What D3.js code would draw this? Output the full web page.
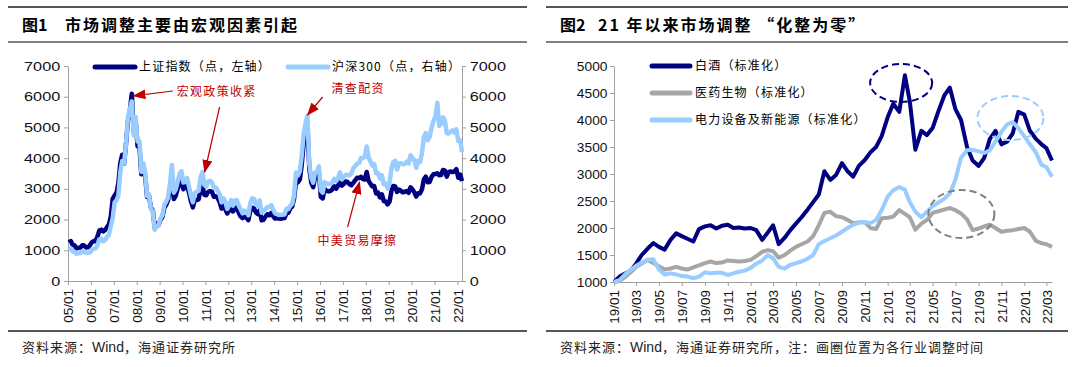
<!DOCTYPE html>
<html>
<head>
<meta charset="utf-8">
<script src="https://cdn.jsdelivr.net/npm/d3@7"></script>
<style>
  body { margin: 0; background: #fff; }
  svg { display: block; font-family: "Liberation Sans", Arial, "Noto Sans CJK SC", sans-serif; }
</style>
</head>
<body>
<svg id="chart" width="1080" height="367"></svg>
<script>
// ---------- figure 1: monthly, 2005/01 .. 2022/03 ----------
const shIndex = [
  1250, 1300, 1180, 1160, 1060, 1080, 1083, 1162, 1155, 1092, 1099, 1161,
  1258, 1299, 1298, 1440, 1641, 1672, 1612, 1658, 1752, 1837, 2099, 2675,
  2786, 2881, 3183, 3841, 4109, 3820, 4471, 5218, 5552, 6100, 4871, 5262,
  4383, 4348, 3473, 3693, 3433, 2736, 2775, 2397, 2293, 1729, 1871, 1821,
  1990, 2082, 2373, 2477, 2633, 2959, 3412, 2667, 2779, 2996, 3195, 3277,
  2989, 3051, 3110, 2870, 2592, 2398, 2638, 2638, 2656, 2979, 3100, 2808,
  2791, 2905, 2928, 2911, 2743, 2762, 2701, 2568, 2359, 2468, 2333, 2199,
  2293, 2428, 2263, 2397, 2373, 2225, 2103, 2047, 2086, 2069, 1980, 2269,
  2385, 2366, 2237, 2178, 2301, 1979, 1994, 2098, 2175, 2141, 2220, 2116,
  2033, 2056, 2033, 2026, 2039, 2048, 2202, 2217, 2364, 2420, 2683, 3235,
  3210, 3310, 3748, 4441, 4612, 5100, 3664, 3206, 3053, 3383, 3445, 3539,
  2738, 2688, 3004, 2938, 2917, 2930, 2979, 3085, 3005, 3100, 3250, 3104,
  3159, 3242, 3223, 3155, 3117, 3192, 3273, 3361, 3349, 3393, 3317, 3307,
  3550, 3259, 3169, 3082, 3095, 2847, 2876, 2725, 2821, 2603, 2588, 2494,
  2585, 2941, 3091, 3078, 2899, 2979, 2933, 2886, 2905, 2929, 2872, 3050,
  2977, 2880, 2750, 2860, 2852, 2985, 3310, 3396, 3218, 3225, 3392, 3473,
  3483, 3509, 3442, 3447, 3615, 3591, 3397, 3544, 3568, 3547, 3564, 3640,
  3362, 3462, 3250
];
const hs300 = [
  1000, 1065,  962,  956,  883,  907,  908,  966,  957,  915,  917,  924,
  1010, 1048, 1062, 1163, 1358, 1380, 1294, 1330, 1434, 1506, 1793, 2042,
  2570, 2627, 2781, 3541, 3903, 3831, 4472, 5338, 5596, 5850, 4738, 5338,
  4539, 4549, 3551, 3836, 3561, 2768, 2819, 2349, 2265, 1665, 1793, 1817,
  2032, 2144, 2468, 2582, 2718, 3166, 3780, 2877, 2984, 3222, 3495, 3576,
  3205, 3282, 3346, 3068, 2771, 2564, 2868, 2903, 2935, 3379, 3550, 3128,
  3076, 3239, 3263, 3211, 3033, 3044, 2941, 2829, 2558, 2695, 2568, 2346,
  2464, 2634, 2455, 2626, 2640, 2461, 2332, 2204, 2293, 2254, 2140, 2523,
  2688, 2673, 2495, 2452, 2627, 2226, 2286, 2338, 2410, 2409, 2472, 2331,
  2202, 2178, 2146, 2158, 2160, 2165, 2354, 2339, 2450, 2508, 2809, 3533,
  3434, 3572, 4051, 4749, 5123, 5380, 3816, 3366, 3202, 3534, 3566, 3731,
  2946, 2877, 3218, 3156, 3169, 3154, 3204, 3327, 3253, 3336, 3538, 3310,
  3387, 3452, 3456, 3439, 3493, 3666, 3737, 3822, 3837, 4006, 4006, 4031,
  4380, 4023, 3899, 3756, 3802, 3510, 3517, 3334, 3438, 3153, 3173, 3011,
  3202, 3670, 3873, 3913, 3630, 3826, 3836, 3799, 3814, 3886, 3829, 4097,
  4003, 3940, 3686, 3913, 3868, 4164, 4695, 4816, 4588, 4695, 5000, 5212,
  5351, 5807, 5048, 5124, 5331, 5224, 4811, 4806, 4867, 4908, 4832, 4940,
  4564, 4582, 4200
];
const leftXLabels = ["05/01","06/01","07/01","08/01","09/01","10/01","11/01","12/01","13/01",
  "14/01","15/01","16/01","17/01","18/01","19/01","20/01","21/01","22/01"];
const leftYTicks = [0, 1000, 2000, 3000, 4000, 5000, 6000, 7000];
const leftNotes = [
  { text: "宏观政策收紧", at: "2009-10-01", v: 6150,
    arrows: [ { from: ["2009-07-30", 6186], to: ["2007-11-10", 6030] },
              { from: ["2011-08-15", 5665], to: ["2010-12-20", 3549] } ] },
  { text: "清查配资", at: "2016-07-04", v: 6251,
    arrows: [ { from: ["2016-02-13", 5991], to: ["2015-06-17", 5405] } ] },
  { text: "中美贸易摩擦", at: "2015-11-24", v: 1302,
    arrows: [ { from: ["2017-03-17", 1758], to: ["2017-09-24", 3223] } ] }
];

// ---------- figure 2: half-monthly, 2019/01 .. 2022/03 ----------
const baijiu = [
  1000, 1100, 1160, 1220, 1340, 1500, 1620, 1720, 1650, 1600, 1780, 1900,
  1850, 1800, 1750, 1980, 2030, 2050, 1990, 2040, 2060, 2000, 2010, 1990,
  2000, 1960, 1780, 1920, 2050, 1700, 1820, 1960, 2080, 2200, 2340, 2480,
  2620, 3050, 2890, 2980, 3200, 3050, 2950, 3150, 3260, 3400, 3500, 3700,
  4050, 4300, 4150, 4830, 4350, 3450, 3800, 3720, 3850, 4150, 4450, 4600,
  4200, 4000, 3500, 3250, 3150, 3300, 3650, 3800, 3550, 3600, 3750, 4150,
  4100, 3800, 3650, 3550, 3480, 3250
];
const yiyao = [
  1000, 1020, 1100, 1190, 1280, 1340, 1410, 1350, 1290, 1230, 1250, 1280,
  1250, 1230, 1270, 1310, 1350, 1380, 1350, 1360, 1400, 1390, 1380, 1390,
  1410, 1480, 1560, 1590, 1570, 1450, 1500, 1580, 1650, 1700, 1750, 1850,
  2050, 2280, 2300, 2220, 2200, 2150, 2090, 2100, 2110, 2000, 1980, 2180,
  2190, 2210, 2330, 2260, 2200, 1970, 2080, 2150, 2280, 2310, 2340, 2370,
  2330, 2270, 2160, 1960, 1990, 2030, 2060, 2000, 1930, 1950, 1960, 1980,
  2000, 1930, 1760, 1720, 1700, 1650
];
const dianli = [
  1000, 1040, 1150, 1230, 1300, 1360, 1410, 1420, 1230, 1140, 1160, 1140,
  1110, 1100, 1070, 1100, 1180, 1160, 1170, 1170, 1130, 1160, 1190, 1210,
  1260, 1340, 1400, 1500, 1440, 1280, 1250, 1320, 1350, 1380, 1430, 1500,
  1700, 1760, 1810, 1860, 1930, 2000, 2060, 2100, 2110, 2090, 2150, 2330,
  2580, 2700, 2760, 2710, 2480, 2300, 2200, 2300, 2400, 2470, 2540, 2640,
  2900, 3300, 3440, 3450, 3420, 3390, 3440, 3600, 3780, 3920, 3960, 3850,
  3700, 3550, 3400, 3170, 3130, 2950
];
const rightXLabels = ["19/01","19/03","19/05","19/07","19/09","19/11","20/01","20/03","20/05","20/07",
  "20/09","20/11","21/01","21/03","21/05","21/07","21/09","21/11","22/01","22/03"];
const rightYTicks = [1000, 1500, 2000, 2500, 3000, 3500, 4000, 4500, 5000];
const circles = [
  { at: "2021-02-06", v: 4685, color: "#000080", rx: 31, ry: 19 },
  { at: "2021-11-25", v: 4037, color: "#99ccff", rx: 33, ry: 22 },
  { at: "2021-07-17", v: 2259, color: "#808080", rx: 33, ry: 24 }
];

const NAVY = "#000080", LIGHT = "#99ccff", GRAY = "#a6a6a6", RED = "#c00000";
const AXIS = "#a0a0a0";
const CJK = "'Noto Sans CJK SC', sans-serif";
const LATIN = "'Liberation Sans', Arial, sans-serif";

const svg = d3.select("#chart");
svg.append("rect").attr("width", 1080).attr("height", 367).attr("fill", "#fff");
const parseDay = d3.timeParse("%Y-%m-%d");
const labelDate = s => new Date(2000 + +s.slice(0, 2), +s.slice(3) - 1, 1);

// frames, titles, sources
function frame(x1, x2, num, title, titleX, sourceTail) {
  [[7, 2], [42, 1.5], [331, 2]].forEach(([y, w]) => {
    svg.append("line").attr("x1", x1).attr("x2", x2).attr("y1", y).attr("y2", y)
      .attr("stroke", "#555").attr("stroke-width", w);
  });
  svg.append("text").attr("x", x1 + 14).attr("y", 31).attr("font-size", 16)
    .attr("font-weight", "bold").style("font-family", CJK).text(num);
  svg.append("text").attr("x", titleX).attr("y", 31).attr("font-size", 16)
    .attr("font-weight", "bold").attr("letter-spacing", 2).style("font-family", CJK).text(title);
  const src = svg.append("text").attr("x", x1 + 14).attr("y", 352).attr("font-size", 13)
    .attr("letter-spacing", 1).attr("fill", "#222").style("font-family", CJK);
  src.append("tspan").text("资料来源：");
  src.append("tspan").style("font-family", LATIN).attr("letter-spacing", 0).attr("font-size", 14).text("Wind");
  src.append("tspan").text(sourceTail);
}
frame(8, 527, "图1", "市场调整主要由宏观因素引起", 65, "，海通证券研究所");
frame(546, 1068, "图2", "21 年以来市场调整 “化整为零”", 598,
  "，海通证券研究所，注：画圈位置为各行业调整时间");

function styleAxis(g) {
  g.select(".domain").attr("stroke", AXIS);
  g.selectAll(".tick line").attr("stroke", AXIS);
  g.selectAll("text").attr("fill", "#111").attr("font-size", 12.5).style("font-family", LATIN);
}
function rotateLabels(g) {
  g.selectAll("text").attr("transform", "rotate(-90)").attr("font-size", 13.5)
    .attr("x", -8).attr("y", 0).attr("dy", "0.35em").attr("text-anchor", "end");
}

// ---------- figure 1 ----------
const xL = d3.scaleTime().domain([new Date(2005, 0, 1), new Date(2022, 2, 15)]).range([68, 462]);
const yL = d3.scaleLinear().domain([0, 7000]).range([281, 66]);
const leftDates = shIndex.map((_, i) => d3.timeDay.offset(d3.timeMonth.offset(new Date(2005, 0, 1), i), 14));

svg.append("g").attr("transform", "translate(68,0)")
  .call(d3.axisLeft(yL).tickValues(leftYTicks).tickFormat(d3.format("d")).tickSize(4).tickSizeOuter(0))
  .call(styleAxis)
  .call(g => g.selectAll("text").attr("x", -6).attr("transform", "scale(1.3,1)"));
svg.append("g").attr("transform", "translate(462,0)")
  .call(d3.axisRight(yL).tickValues(leftYTicks).tickFormat(d3.format("d")).tickSize(4).tickSizeOuter(0))
  .call(styleAxis)
  .call(g => g.selectAll("text").attr("x", 6).attr("transform", "scale(1.3,1)"));
svg.append("g").attr("transform", "translate(0,281)")
  .call(d3.axisBottom(xL).tickValues(leftXLabels.map(labelDate))
    .tickFormat((d, i) => leftXLabels[i]).tickSize(4).tickSizeOuter(0))
  .call(styleAxis)
  .call(rotateLabels);

const lineL = d3.line().x((d, i) => xL(leftDates[i])).y(d => yL(d));
[[shIndex, NAVY], [hs300, LIGHT]].forEach(([s, c]) => {
  svg.append("path").datum(s).attr("d", lineL).attr("fill", "none")
    .attr("stroke", c).attr("stroke-width", 4.5).attr("stroke-linejoin", "round");
});

// legend fig 1
[[95, NAVY, "上证指数（点，左轴）"], [288, LIGHT, "沪深300（点，右轴）"]].forEach(([x, c, t]) => {
  svg.append("line").attr("x1", x).attr("x2", x + 40).attr("y1", 67).attr("y2", 67)
    .attr("stroke", c).attr("stroke-width", 5).attr("stroke-linecap", "round");
  svg.append("text").attr("x", x + 44).attr("y", 67).attr("dy", "0.36em")
    .attr("font-size", 12).attr("letter-spacing", 1.2).style("font-family", CJK).text(t);
});

// annotations fig 1
svg.append("defs").append("marker").attr("id", "arr")
  .attr("markerUnits", "userSpaceOnUse").attr("markerWidth", 13).attr("markerHeight", 10)
  .attr("refX", 12).attr("refY", 5).attr("orient", "auto")
  .append("path").attr("d", "M0,0 L13,5 L0,10 Z").attr("fill", RED);
leftNotes.forEach(n => {
  svg.append("text").attr("x", xL(parseDay(n.at))).attr("y", yL(n.v)).attr("dy", "0.36em")
    .attr("font-size", 12).attr("letter-spacing", 1.3).attr("fill", RED)
    .style("font-family", CJK).text(n.text);
  n.arrows.forEach(a => {
    svg.append("line")
      .attr("x1", xL(parseDay(a.from[0]))).attr("y1", yL(a.from[1]))
      .attr("x2", xL(parseDay(a.to[0]))).attr("y2", yL(a.to[1]))
      .attr("stroke", RED).attr("stroke-width", 1.2).attr("marker-end", "url(#arr)");
  });
});

// ---------- figure 2 ----------
const xR = d3.scaleTime().domain([new Date(2019, 0, 1), new Date(2022, 2, 16)]).range([614, 1052]);
const yR = d3.scaleLinear().domain([1000, 5000]).range([282, 66]);
const rightDates = baijiu.map((_, i) => new Date(2019, Math.floor(i / 2), i % 2 ? 16 : 1));

svg.append("g").attr("transform", "translate(614,0)")
  .call(d3.axisLeft(yR).tickValues(rightYTicks).tickFormat(d3.format("d")).tickSize(4).tickSizeOuter(0))
  .call(styleAxis)
  .call(g => g.selectAll("text").attr("x", -6).attr("transform", "scale(1.1,1)"));
svg.append("g").attr("transform", "translate(0,282)")
  .call(d3.axisBottom(xR).tickValues(rightXLabels.map(labelDate))
    .tickFormat((d, i) => rightXLabels[i]).tickSize(4).tickSizeOuter(0))
  .call(styleAxis)
  .call(rotateLabels);

const lineR = d3.line().x((d, i) => xR(rightDates[i])).y(d => yR(d));
const rightSeries = [
  [baijiu, NAVY, "白酒（标准化）"],
  [yiyao, GRAY, "医药生物（标准化）"],
  [dianli, LIGHT, "电力设备及新能源（标准化）"]
];
rightSeries.forEach(([s, c, t], i) => {
  svg.append("path").datum(s).attr("d", lineR).attr("fill", "none")
    .attr("stroke", c).attr("stroke-width", 4).attr("stroke-linejoin", "round");
  const ly = 66 + i * 27;
  svg.append("line").attr("x1", 652).attr("x2", 690).attr("y1", ly).attr("y2", ly)
    .attr("stroke", c).attr("stroke-width", 5).attr("stroke-linecap", "round");
  svg.append("text").attr("x", 695).attr("y", ly).attr("dy", "0.36em")
    .attr("font-size", 12).attr("letter-spacing", 1.2).style("font-family", CJK).text(t);
});

circles.forEach(c => {
  svg.append("ellipse").attr("cx", xR(parseDay(c.at))).attr("cy", yR(c.v))
    .attr("rx", c.rx).attr("ry", c.ry).attr("fill", "none")
    .attr("stroke", c.color).attr("stroke-width", 2).attr("stroke-dasharray", "7,4");
});
</script>
</body>
</html>
